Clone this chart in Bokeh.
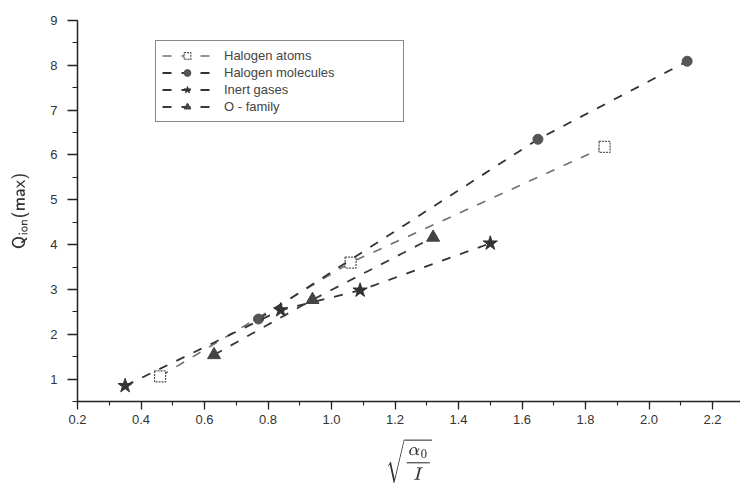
from bokeh.plotting import figure
from bokeh.models import Range1d, SingleIntervalTicker, NumeralTickFormatter, Legend, LegendItem
from bokeh.embed import file_html
from bokeh.resources import INLINE

# Q_ion(max) against sqrt(alpha_0 / I) for four groups of species
x_atoms = [0.46, 1.06, 1.86]
y_atoms = [1.06, 3.60, 6.18]

x_molecules = [0.77, 1.65, 2.12]
y_molecules = [2.34, 6.35, 8.09]

x_inert = [0.35, 0.84, 1.09, 1.50]
y_inert = [0.85, 2.54, 2.98, 4.03]

x_ofamily = [0.63, 0.94, 1.32]
y_ofamily = [1.54, 2.77, 4.16]

series_labels = ["Halogen atoms", "Halogen molecules", "Inert gases", "O - family"]

p = figure(width=740, height=486, output_backend="svg", toolbar_location=None,
           x_range=Range1d(0.2, 2.288), y_range=Range1d(0.5, 9.0),
           min_border_left=77, min_border_right=0, min_border_top=20, min_border_bottom=85,
           background_fill_color="white", border_fill_color="white")
p.outline_line_color = None
p.xgrid.visible = False
p.ygrid.visible = False

FONT = "Liberation Sans"
AX = "#222222"

p.xaxis.ticker = SingleIntervalTicker(interval=0.2, num_minor_ticks=2)
p.xaxis.formatter = NumeralTickFormatter(format="0.0")
p.yaxis.ticker = SingleIntervalTicker(interval=1, num_minor_ticks=2)

for ax in (p.xaxis[0], p.yaxis[0]):
    ax.axis_line_color = AX
    ax.axis_line_width = 1.5
    ax.major_tick_line_color = AX
    ax.minor_tick_line_color = AX
    ax.major_tick_line_width = 1.3
    ax.minor_tick_line_width = 1.1
    ax.major_tick_in = 0
    ax.minor_tick_in = 0
    ax.major_label_text_font = FONT
    ax.major_label_text_font_size = "13px"
    ax.major_label_text_color = "#333333"
    ax.axis_label_text_color = "#333333"

p.xaxis.major_tick_out = 8
p.xaxis.minor_tick_out = 4
p.xaxis.major_label_standoff = 5
p.yaxis.major_tick_out = 10
p.yaxis.minor_tick_out = 5
p.yaxis.major_label_standoff = 10

p.xaxis.axis_label = r"$$\sqrt{\frac{\alpha_0}{I}}$$"
p.xaxis.axis_label_text_font_size = "15px"
p.xaxis.axis_label_standoff = 12
p.yaxis.axis_label = r"$$\mathsf{Q_{ion}(max)}$$"
p.yaxis.axis_label_text_font_size = "15px"
p.yaxis.axis_label_standoff = 18

DASH = "9 10"

l1 = p.line(x_atoms, y_atoms, line_color="#707070", line_width=1.6, line_dash=DASH)
m1 = p.scatter(x_atoms, y_atoms, marker="square", size=11, fill_color="white",
               line_color="#555555", line_width=1.2, line_dash="2 1")

l2 = p.line(x_molecules, y_molecules, line_color="#333333", line_width=1.8, line_dash=DASH)
m2 = p.scatter(x_molecules, y_molecules, marker="circle", size=10, fill_color="#555555",
               line_color="#555555")

l3 = p.line(x_inert, y_inert, line_color="#333333", line_width=1.8, line_dash=DASH)
m3 = p.scatter(x_inert, y_inert, marker="star", size=15, fill_color="#333333",
               line_color="#333333")

l4 = p.line(x_ofamily, y_ofamily, line_color="#3a3a3a", line_width=1.8, line_dash=DASH)
m4 = p.scatter(x_ofamily, y_ofamily, marker="triangle", size=13, fill_color="#444444",
               line_color="#444444")

legend = Legend(items=[
    LegendItem(label=series_labels[0], renderers=[l1, m1]),
    LegendItem(label=series_labels[1], renderers=[l2, m2]),
    LegendItem(label=series_labels[2], renderers=[l3, m3]),
    LegendItem(label=series_labels[3], renderers=[l4, m4]),
], location=(78, 279))
legend.border_line_color = "#111111"
legend.border_line_width = 1.3
legend.background_fill_color = "white"
legend.background_fill_alpha = 1.0
legend.label_text_font = FONT
legend.label_text_font_size = "13px"
legend.label_text_color = "#444444"
legend.glyph_width = 50
legend.glyph_height = 17
legend.label_height = 17
legend.label_width = 173
legend.label_standoff = 12
legend.spacing = 0
legend.padding = 6
legend.margin = 0
p.add_layout(legend)

open("out.html", "w").write(file_html(p, INLINE))
